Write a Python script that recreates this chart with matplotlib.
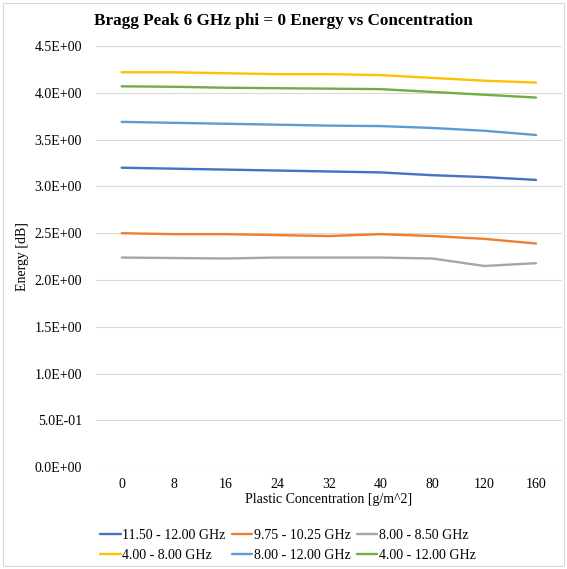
import matplotlib.pyplot as plt
from matplotlib.patches import Rectangle

plt.rcParams['font.family'] = ['Liberation Serif', 'DejaVu Serif']

# Data
concentrations = ['0', '8', '16', '24', '32', '40', '80', '120', '160']
band_names = ['11.50 - 12.00 GHz', '9.75 - 10.25 GHz', '8.00 - 8.50 GHz',
              '4.00 - 8.00 GHz', '8.00 - 12.00 GHz', '4.00 - 12.00 GHz']
e_1150_1200 = [3.20, 3.19, 3.18, 3.17, 3.16, 3.15, 3.12, 3.10, 3.07]
e_975_1025 = [2.50, 2.49, 2.49, 2.48, 2.47, 2.49, 2.47, 2.44, 2.39]
e_800_850 = [2.24, 2.235, 2.23, 2.24, 2.24, 2.24, 2.23, 2.15, 2.18]
e_400_800 = [4.22, 4.22, 4.21, 4.20, 4.20, 4.19, 4.16, 4.13, 4.11]
e_800_1200 = [3.69, 3.68, 3.67, 3.66, 3.65, 3.645, 3.625, 3.595, 3.55]
e_400_1200 = [4.07, 4.065, 4.055, 4.05, 4.045, 4.04, 4.01, 3.98, 3.95]
series = [e_1150_1200, e_975_1025, e_800_850, e_400_800, e_800_1200, e_400_1200]
colors = ['#4472C4', '#ED7D31', '#A5A5A5', '#FFC000', '#5B9BD5', '#70AD47']

fig = plt.figure(figsize=(5.67, 5.69), dpi=100)
ax = fig.add_axes([0.169, 0.179, 0.822, 0.740])

x = list(range(len(concentrations)))
lines = []
for vals, name, c in zip(series, band_names, colors):
    ln, = ax.plot(x, vals, color=c, linewidth=1.7, label=name, solid_capstyle='round')
    lines.append(ln)

ax.set_xlim(-0.5, len(concentrations) - 0.5)
ax.set_ylim(0, 4.5)
yt = [i * 0.5 for i in range(10)]
ax.set_yticks(yt)
ax.set_yticklabels([('%.1E' % v) for v in yt])
ax.set_xticks(x)
ax.set_xticklabels(concentrations)
ax.tick_params(length=0, labelsize=10, pad=10)
ax.tick_params(axis='x', pad=8)
ax.grid(axis='y', color='#D9D9D9', linewidth=0.8)
ax.set_axisbelow(True)
for s in ax.spines.values():
    s.set_visible(False)

ax.set_xlabel('Plastic Concentration [g/m^2]', fontsize=10, labelpad=1)
ax.set_ylabel('Energy [dB]', fontsize=10, labelpad=4)
fig.text(0.5, 0.963, 'Bragg Peak 6 GHz phi = 0 Energy vs Concentration',
         ha='center', va='center', fontsize=12.3, fontweight='bold')

# legend filled row by row like the original
order = [0, 3, 1, 4, 2, 5]
ax.legend([lines[i] for i in order], [band_names[i] for i in order],
          loc='upper left', bbox_to_anchor=(0.01, -0.146), ncol=3, frameon=False,
          fontsize=10, handlelength=1.45, handletextpad=0.12, columnspacing=0.45,
          labelspacing=0.5, borderpad=0, borderaxespad=0)

fig.patches.append(Rectangle((0.005, 0.005), 0.99, 0.99, transform=fig.transFigure,
                             fill=False, edgecolor='#D9D9D9', linewidth=0.8))

fig.savefig('out.png', dpi=100)
